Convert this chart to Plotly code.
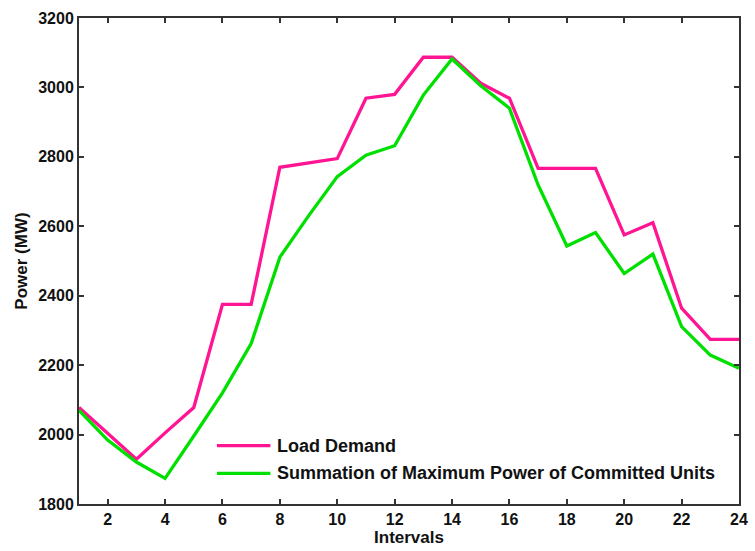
import plotly.graph_objects as go

intervals = list(range(1, 25))
load_demand = [2078, 2004, 1929, 2005, 2078, 2375, 2375, 2770, 2782, 2795, 2969, 2980,
               3087, 3087, 3012, 2969, 2767, 2767, 2767, 2575, 2610, 2364, 2274, 2274]
committed_max = [2070, 1984, 1921, 1874, 1996, 2120, 2262, 2511, 2630, 2743, 2805, 2832,
                 2978, 3082, 3005, 2940, 2719, 2543, 2582, 2464, 2520, 2311, 2229, 2191]
series_names = ["Load Demand", "Summation of Maximum Power of Committed Units"]
series_colors = ["#FF1493", "#00E000"]
x_ticks = list(range(2, 25, 2))
y_ticks = list(range(1800, 3201, 200))

font_family = "Liberation Sans"
txt_color = "#111111"

fig = go.Figure()
for ys, nm, col in zip([load_demand, committed_max], series_names, series_colors):
    fig.add_trace(go.Scatter(x=intervals, y=ys, mode="lines", name=nm,
                             showlegend=False, line=dict(color=col, width=3.3)))

# custom legend (line sample + label), placed in paper coordinates
leg_x0, leg_x1, leg_tx = 0.209, 0.290, 0.297
leg_rows = [0.120, 0.063]
for nm, col, yy in zip(series_names, series_colors, leg_rows):
    fig.add_shape(type="line", xref="paper", yref="paper", x0=leg_x0, x1=leg_x1,
                  y0=yy, y1=yy, line=dict(color=col, width=3.3))
    fig.add_annotation(xref="paper", yref="paper", x=leg_tx, y=yy, text=nm,
                       showarrow=False, xanchor="left", yanchor="middle",
                       font=dict(family=font_family, size=18, color=txt_color, weight="bold"))

axis_common = dict(showline=True, linecolor="#333333", linewidth=2, mirror="ticks",
                   ticks="inside", ticklen=5, tickwidth=1.5, tickcolor="#333333",
                   showgrid=False, zeroline=False,
                   tickfont=dict(family=font_family, size=16, color=txt_color, weight="bold"))

fig.update_layout(
    width=755, height=551,
    margin=dict(l=79, r=7, t=18, b=47),
    paper_bgcolor="white", plot_bgcolor="white",
    showlegend=False,
    xaxis=dict(range=[1, 24], tickvals=x_ticks,
               title=dict(text="Intervals", standoff=4,
                          font=dict(family=font_family, size=17, color=txt_color, weight="bold")),
               **axis_common),
    yaxis=dict(range=[1800, 3200], tickvals=y_ticks,
               title=dict(text="Power (MW)", standoff=6,
                          font=dict(family=font_family, size=17, color=txt_color, weight="bold")),
               **axis_common),
)

fig.write_html("out.html")
